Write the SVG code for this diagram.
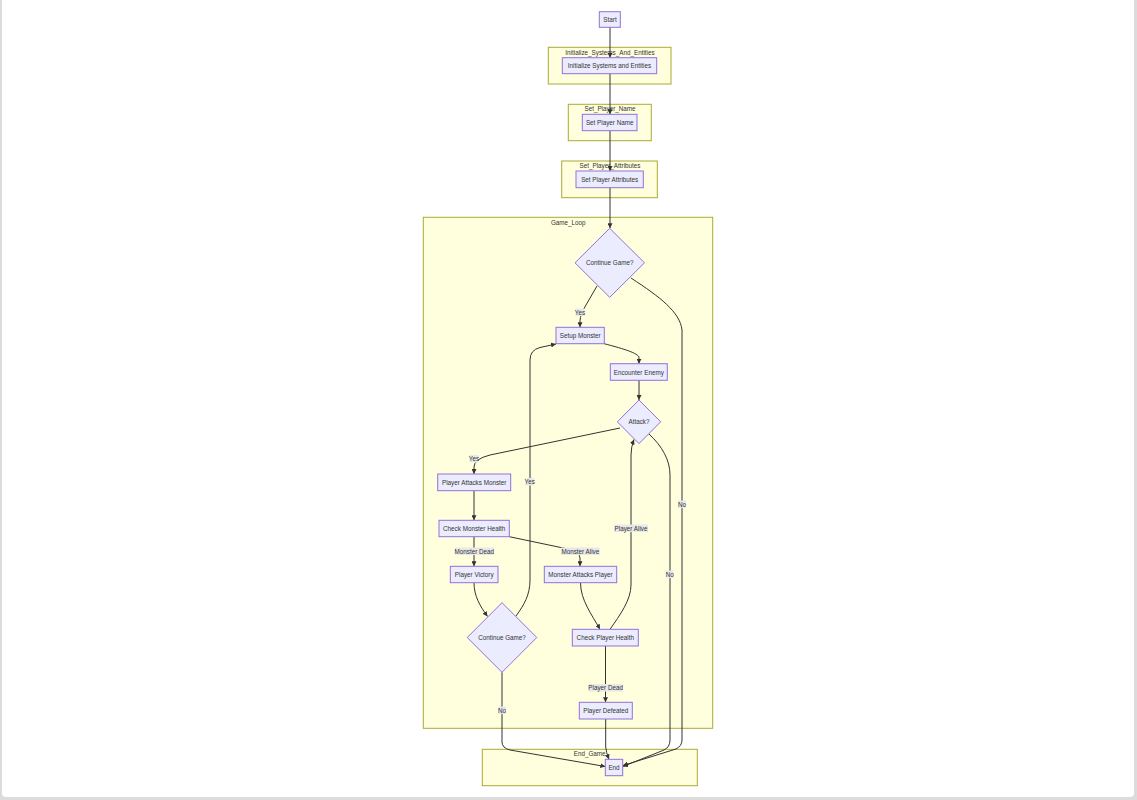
<svg xmlns="http://www.w3.org/2000/svg" width="1137" height="800" viewBox="0 0 1137 800">
<defs>
<marker id="arr" viewBox="0 0 10 10" refX="10" refY="5" markerWidth="5" markerHeight="5" markerUnits="userSpaceOnUse" orient="auto"><path d="M0,0 L10,5 L0,10 z" fill="#333"/></marker>
</defs>
<style>
.cl{fill:#ffffde;stroke:#aaaa33;stroke-width:1}
.nd{fill:#ececff;stroke:#9370db;stroke-width:1}
.t{font-family:"Liberation Sans",Arial,sans-serif;font-size:6.3px;fill:#333;text-anchor:middle;dominant-baseline:central}
.e{fill:none;stroke:#333;stroke-width:1;marker-end:url(#arr)}
.lb{fill:#e8e8e8}
</style>
<rect x="0" y="0" width="1137" height="800" fill="#dcdcdc"/>
<rect x="2" y="-6" width="1132" height="803" rx="4" fill="#fff"/>
<g id="clusters">
<g id="Initialize_Systems_And_Entities"><rect class="cl" x="548.3" y="47.3" width="122.7" height="36.7"/><text class="t" x="610" y="52.5">Initialize_Systems_And_Entities</text></g>
<g id="Set_Player_Name"><rect class="cl" x="568.3" y="104.3" width="83" height="36.4"/><text class="t" x="610" y="108.8">Set_Player_Name</text></g>
<g id="Set_Player_Attributes"><rect class="cl" x="561.7" y="161" width="95.6" height="36.7"/><text class="t" x="610" y="165.5">Set_Player_Attributes</text></g>
<g id="Game_Loop"><rect class="cl" x="423.3" y="217.3" width="289.4" height="511"/><text class="t" x="568.3" y="222.7">Game_Loop</text></g>
<g id="End_Game"><rect class="cl" x="482.3" y="749.3" width="215" height="36.4"/><text class="t" x="589.7" y="753.7">End_Game</text></g>
</g>
<g id="connectors">
<path class="e" d="M610,27.3 L610,57.7"/>
<path class="e" d="M610,73.7 L610,114.3"/>
<path class="e" d="M610,130.7 L610,171"/>
<path class="e" d="M610,187.7 L610,228.3"/>
<path class="e" d="M597,286 L586,305 Q580,315 580,321 L580,327.3"/>
<path class="e" d="M631,278 C660,297 680,312 682,330 L682,740 Q682,746 676,749 L623,765.5"/>
<path class="e" d="M604.3,343.7 C620,348 636,352 639,357 L639,363.7"/>
<path class="e" d="M639,380.3 L639,400"/>
<path class="e" d="M620,428 L490,455 Q474,459 474,467 L474,474"/>
<path class="e" d="M649,434 C662,446 670,460 670,475 L670,740 Q670,747 664,750 L623,766.5"/>
<path class="e" d="M474,490.7 L474,520.3"/>
<path class="e" d="M474,536.7 L474,566.3"/>
<path class="e" d="M509.3,536.7 L568,549 Q580,552 580,558 L580,566.3"/>
<path class="e" d="M474,582.7 C474,596 480,606 487.5,616.5"/>
<path class="e" d="M516,616 C524,605 530,595 530,580 L530,360 Q530,350 540,347.5 L556,344"/>
<path class="e" d="M580.5,582.7 C580.5,600 592,615 600,629.3"/>
<path class="e" d="M610,629.3 C620,615 631,600 631,585 L631,455 Q631,447 634,439.5"/>
<path class="e" d="M605.5,646 L605.5,702.3"/>
<path class="e" d="M605.7,719 L605.7,747 Q606,752 609,759.3"/>
<path class="e" d="M502,672.3 L502,742 Q502,748 510,750 L605.3,766.5"/>
</g>
<g id="edge-labels">
<g><rect class="lb" x="575.5" y="308.5" width="9" height="7.6"/><text class="t" x="580" y="312.3">Yes</text></g>
<g><rect class="lb" x="469.5" y="455" width="9" height="7.6"/><text class="t" x="474" y="458.7">Yes</text></g>
<g><rect class="lb" x="525.2" y="478" width="9" height="7.6"/><text class="t" x="529.7" y="481.7">Yes</text></g>
<g><rect class="lb" x="678" y="500.5" width="8" height="7.6"/><text class="t" x="682" y="504.3">No</text></g>
<g><rect class="lb" x="665.7" y="570.5" width="8" height="7.6"/><text class="t" x="669.7" y="574.3">No</text></g>
<g><rect class="lb" x="498" y="706.5" width="8" height="7.6"/><text class="t" x="502" y="710.3">No</text></g>
<g><rect class="lb" x="454.8" y="547.5" width="39" height="7.6"/><text class="t" x="474.3" y="551.3">Monster Dead</text></g>
<g><rect class="lb" x="560.8" y="547.5" width="39" height="7.6"/><text class="t" x="580.3" y="551.3">Monster Alive</text></g>
<g><rect class="lb" x="613.8" y="524.5" width="34.4" height="7.6"/><text class="t" x="631" y="528.3">Player Alive</text></g>
<g><rect class="lb" x="588.5" y="684" width="34.4" height="7.6"/><text class="t" x="605.7" y="687.7">Player Dead</text></g>
</g>
<g id="Start"><rect class="nd" x="599.3" y="11.7" width="21" height="15.6"/><text class="t" x="610" y="19.5">Start</text></g>
<g id="InitNode"><rect class="nd" x="562.3" y="57.7" width="94.4" height="16"/><text class="t" x="609.5" y="65.7">Initialize Systems and Entities</text></g>
<g id="SetNameNode"><rect class="nd" x="582.3" y="114.3" width="54.7" height="16.4"/><text class="t" x="609.7" y="122.5">Set Player Name</text></g>
<g id="SetAttrNode"><rect class="nd" x="576" y="171" width="67.3" height="16.7"/><text class="t" x="609.7" y="179.3">Set Player Attributes</text></g>
<g id="Continue1"><polygon class="nd" points="609.7,228.3 644.5,262.8 609.7,297.3 575,262.8"/><text class="t" x="609.7" y="262.8">Continue Game?</text></g>
<g id="SetupMonster"><rect class="nd" x="556" y="327.3" width="48.3" height="16.4"/><text class="t" x="580.2" y="335.5">Setup Monster</text></g>
<g id="EncounterEnemy"><rect class="nd" x="610.3" y="363.7" width="57" height="16.6"/><text class="t" x="638.8" y="372">Encounter Enemy</text></g>
<g id="Attack"><polygon class="nd" points="639,400 660.7,421.8 639,443.6 617.3,421.8"/><text class="t" x="639" y="421.8">Attack?</text></g>
<g id="PlayerAttacks"><rect class="nd" x="437.7" y="474" width="73" height="16.7"/><text class="t" x="474.2" y="482.3">Player Attacks Monster</text></g>
<g id="CheckMonster"><rect class="nd" x="439" y="520.3" width="70.3" height="16.4"/><text class="t" x="474.2" y="528.5">Check Monster Health</text></g>
<g id="PlayerVictory"><rect class="nd" x="450.3" y="566.3" width="47.7" height="16.4"/><text class="t" x="474.2" y="574.5">Player Victory</text></g>
<g id="MonsterAttacks"><rect class="nd" x="544.3" y="566.3" width="72.4" height="16.4"/><text class="t" x="580.5" y="574.5">Monster Attacks Player</text></g>
<g id="Continue2"><polygon class="nd" points="502,602.7 536.8,637.5 502,672.3 467.2,637.5"/><text class="t" x="502" y="637.5">Continue Game?</text></g>
<g id="CheckPlayer"><rect class="nd" x="572.3" y="629.3" width="66" height="16.7"/><text class="t" x="605.3" y="637.7">Check Player Health</text></g>
<g id="PlayerDefeated"><rect class="nd" x="579.3" y="702.3" width="53" height="16.7"/><text class="t" x="605.8" y="710.7">Player Defeated</text></g>
<g id="End"><rect class="nd" x="605.3" y="759.3" width="17.4" height="16.4"/><text class="t" x="614" y="767.5">End</text></g>
</svg>
